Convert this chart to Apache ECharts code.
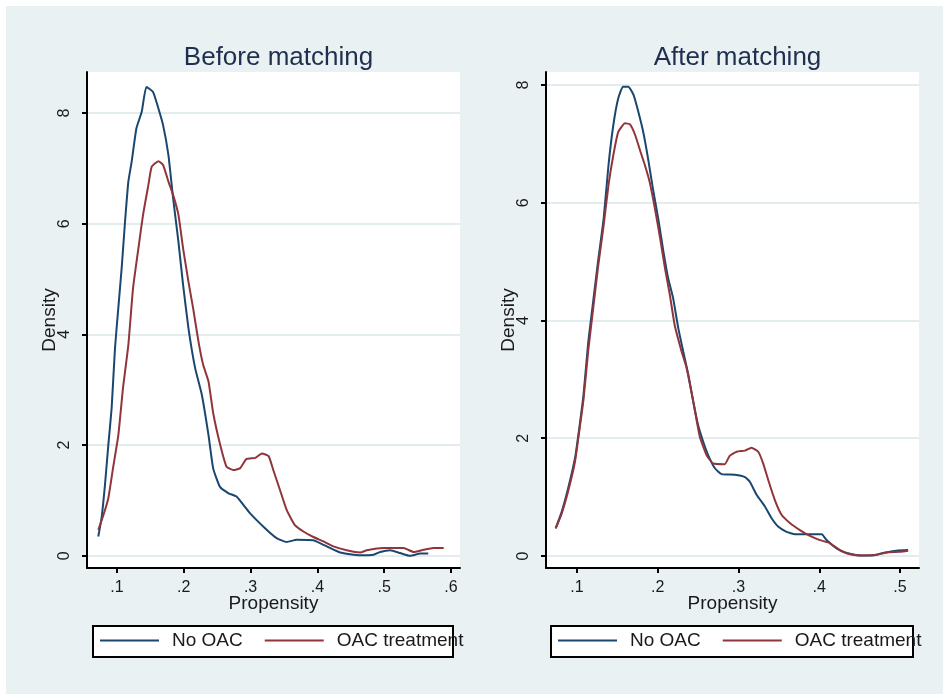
<!DOCTYPE html>
<html>
<head>
<meta charset="utf-8">
<script src="https://cdn.jsdelivr.net/npm/echarts@6/dist/echarts.min.js"></script>
<style>
html,body{margin:0;padding:0;background:#ffffff;}
#bg{position:absolute;left:6px;top:6px;width:937px;height:688px;background:#e9f1f3;}
#c{position:absolute;left:0;top:0;width:943px;height:695px;}
</style>
</head>
<body>
<div id="bg"></div>
<div id="c"></div>
<script>
// ---- Data ----
const panelTitles = ["Before matching", "After matching"];
const seriesNames = ["No OAC", "OAC treatment"];
const xTickValues = [[0.1, 0.2, 0.3, 0.4, 0.5, 0.6], [0.1, 0.2, 0.3, 0.4, 0.5]];
const yTickValues = [0, 2, 4, 6, 8];

const beforeNoOacX = [0.072,0.077,0.082,0.087,0.092,0.097,0.102,0.107,0.112,0.117,0.122,0.129,0.137,0.144,0.154,0.162,0.169,0.177,0.184,0.192,0.199,0.207,0.217,0.227,0.237,0.244,0.254,0.267,0.279,0.299,0.324,0.339,0.354,0.369,0.394,0.414,0.434,0.464,0.484,0.494,0.509,0.524,0.539,0.554,0.566];
const beforeNoOacY = [0.35,0.69,1.28,2.0,2.67,3.75,4.48,5.2,6.03,6.76,7.12,7.72,8.02,8.47,8.38,8.08,7.78,7.24,6.46,5.67,4.89,4.11,3.39,2.91,2.18,1.58,1.25,1.13,1.07,0.77,0.47,0.32,0.25,0.29,0.28,0.17,0.06,0.01,0.02,0.07,0.10,0.05,0.0,0.04,0.04];

const beforeOacX = [0.072,0.079,0.087,0.094,0.102,0.109,0.117,0.124,0.132,0.139,0.147,0.152,0.162,0.169,0.177,0.184,0.192,0.199,0.207,0.214,0.222,0.229,0.237,0.244,0.254,0.264,0.274,0.284,0.294,0.307,0.317,0.327,0.334,0.344,0.354,0.366,0.379,0.394,0.409,0.424,0.444,0.464,0.474,0.499,0.529,0.544,0.559,0.574,0.589];
const beforeOacY = [0.47,0.71,1.04,1.58,2.18,3.03,3.81,4.83,5.55,6.16,6.70,7.03,7.13,7.06,6.76,6.52,6.16,5.55,4.95,4.47,3.87,3.45,3.15,2.58,2.03,1.61,1.55,1.58,1.75,1.77,1.85,1.80,1.55,1.19,0.83,0.56,0.44,0.34,0.26,0.17,0.10,0.06,0.10,0.14,0.14,0.07,0.11,0.14,0.14];

const afterNoOacX = [0.0736,0.081,0.089,0.0975,0.1016,0.108,0.114,0.120,0.126,0.133,0.139,0.145,0.151,0.157,0.1635,0.170,0.176,0.182,0.188,0.194,0.2006,0.207,0.213,0.219,0.2254,0.2316,0.238,0.244,0.250,0.2563,0.2625,0.2708,0.279,0.2955,0.308,0.314,0.3224,0.3327,0.341,0.349,0.3595,0.37,0.382,0.403,0.409,0.4214,0.4338,0.4502,0.4667,0.479,0.4957,0.510];
const afterNoOacY = [0.47,0.75,1.15,1.66,2.05,2.73,3.64,4.32,5.00,5.73,6.64,7.32,7.77,7.97,7.97,7.83,7.54,7.20,6.75,6.24,5.73,5.17,4.71,4.38,3.87,3.47,3.07,2.62,2.22,1.94,1.71,1.49,1.39,1.38,1.34,1.26,1.04,0.84,0.64,0.50,0.41,0.37,0.37,0.37,0.27,0.13,0.05,0.01,0.01,0.05,0.09,0.10];

const afterOacX = [0.0736,0.081,0.089,0.0975,0.1016,0.108,0.114,0.120,0.126,0.133,0.139,0.145,0.151,0.1594,0.1656,0.172,0.178,0.184,0.190,0.1965,0.203,0.209,0.215,0.221,0.2296,0.2358,0.244,0.252,0.2605,0.2687,0.283,0.289,0.2977,0.308,0.316,0.3244,0.3306,0.3368,0.345,0.3533,0.3636,0.376,0.3884,0.4007,0.413,0.4255,0.438,0.4543,0.471,0.4833,0.5,0.510];
const afterOacY = [0.47,0.72,1.10,1.60,2.00,2.65,3.50,4.20,4.90,5.62,6.30,6.81,7.20,7.35,7.33,7.15,6.89,6.64,6.35,5.90,5.39,4.88,4.43,3.92,3.47,3.19,2.62,2.03,1.71,1.57,1.56,1.70,1.77,1.79,1.84,1.77,1.57,1.29,0.95,0.70,0.56,0.44,0.34,0.27,0.22,0.10,0.03,0.01,0.02,0.06,0.07,0.09];

// ---- Layout / style ----
const FONT = "'Liberation Sans', Arial, sans-serif";
const BLUE = "#1a476f";
const RED = "#90353b";
const GRIDLINE = "#e3edf0";
const panels = [
  {left: 87, top: 72, width: 373, height: 496, xMin: 0.0551, xMax: 0.6135, yMin: -0.22, yMax: 8.74, box: [93, 626, 360, 31], legendLeft: 100},
  {left: 546, top: 72, width: 373, height: 496, xMin: 0.0616, xMax: 0.5235, yMin: -0.204, yMax: 8.22, box: [551, 626, 362, 31], legendLeft: 558}
];

function zip(xs, ys) { return xs.map((x, i) => [x, ys[i]]); }
const seriesData = [
  [zip(beforeNoOacX, beforeNoOacY), zip(beforeOacX, beforeOacY)],
  [zip(afterNoOacX, afterNoOacY), zip(afterOacX, afterOacY)]
];

const chart = echarts.init(document.getElementById('c'), null, {renderer: 'canvas'});

const grid = [], xAxis = [], yAxis = [], series = [], title = [], legend = [], graphic = [];
panels.forEach((p, i) => {
  grid.push({left: p.left, top: p.top, width: p.width, height: p.height, show: true,
    backgroundColor: '#ffffff', borderWidth: 0, containLabel: false});
  xAxis.push({
    type: 'value', gridIndex: i, min: p.xMin, max: p.xMax,
    name: 'Propensity', nameLocation: 'middle', nameGap: 26, nameMoveOverlap: false,
    nameTextStyle: {fontFamily: FONT, fontSize: 19, color: '#1a1a1a'},
    axisLine: {show: true, onZero: false, lineStyle: {color: '#000', width: 2}},
    axisTick: {show: true, length: 5, lineStyle: {color: '#000', width: 2}, customValues: xTickValues[i]},
    axisLabel: {show: true, margin: 12, fontFamily: FONT, fontSize: 16, color: '#1a1a1a',
      customValues: xTickValues[i], formatter: v => String(+v.toFixed(2)).replace(/^0/, '')},
    splitLine: {show: false}
  });
  yAxis.push({
    type: 'value', gridIndex: i, min: p.yMin, max: p.yMax,
    name: 'Density', nameLocation: 'middle', nameGap: 28, nameRotate: 90, nameMoveOverlap: false,
    nameTextStyle: {fontFamily: FONT, fontSize: 19, color: '#1a1a1a'},
    axisLine: {show: true, onZero: false, lineStyle: {color: '#000', width: 2}},
    axisTick: {show: true, length: 5, lineStyle: {color: '#000', width: 2}, customValues: yTickValues},
    axisLabel: {show: true, margin: 14, rotate: 90, fontFamily: FONT, fontSize: 16, color: '#1a1a1a',
      customValues: yTickValues, formatter: v => String(v)},
    splitLine: {show: true, lineStyle: {color: GRIDLINE, width: 2}}
  });
  title.push({
    text: panelTitles[i], left: p.left + p.width / 2, top: 40, textAlign: 'center',
    textStyle: {fontFamily: FONT, fontSize: 26, fontWeight: 'normal', color: '#1f2f4f'}
  });
  seriesNames.forEach((name, k) => {
    series.push({
      type: 'line', name: name, xAxisIndex: i, yAxisIndex: i,
      data: seriesData[i][k], showSymbol: false, smooth: 0.15,
      lineStyle: {color: k === 0 ? BLUE : RED, width: 2},
      itemStyle: {color: k === 0 ? BLUE : RED},
      z: 3 + k
    });
  });
  legend.push({
    left: p.legendLeft, top: 631, padding: 0, itemGap: 22,
    itemWidth: 59, itemHeight: 2, icon: 'rect',
    data: seriesNames,
    textStyle: {fontFamily: FONT, fontSize: 19, color: '#1a1a1a', padding: [0, 0, 0, 8]},
    selectedMode: false
  });
  graphic.push({
    type: 'rect', z: 0, silent: true,
    shape: {x: p.box[0], y: p.box[1], width: p.box[2], height: p.box[3]},
    style: {fill: '#ffffff', stroke: '#000000', lineWidth: 2}
  });
});

chart.setOption({
  backgroundColor: 'transparent',
  animation: false,
  title, grid, xAxis, yAxis, series, legend, graphic
});
</script>
</body>
</html>
